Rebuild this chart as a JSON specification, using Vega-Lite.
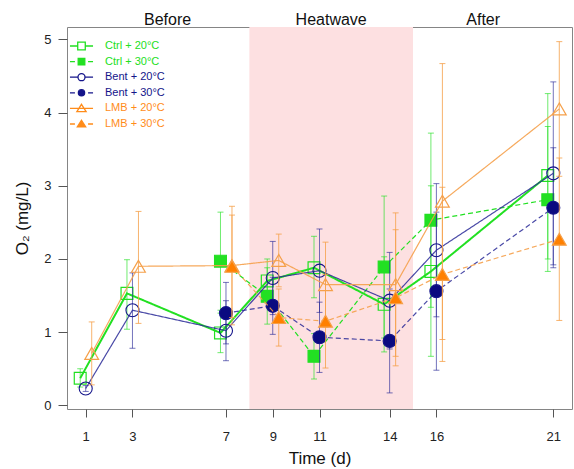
{
  "$schema": "https://vega.github.io/schema/vega-lite/v6.json",
  "width": 505,
  "height": 382,
  "autosize": {"type": "none"},
  "padding": {"left": 67, "top": 27, "right": 2, "bottom": 60},
  "config": {
    "font": "Liberation Sans",
    "view": {"stroke": "#858585", "strokeWidth": 1},
    "axis": {"grid": false, "domain": false, "tickColor": "#555555", "labelColor": "#222222", "titleColor": "#111111", "labelFontSize": 13, "titleFontSize": 17, "titleFontWeight": "normal", "labelFont": "Liberation Sans", "titleFont": "Liberation Sans"}
  },
  "datasets": {
    "obs": [
      {"day": 1, "trt": "Ctrl", "temp": "20°C", "series": "Ctrl + 20°C", "mean": 0.37, "lo": 0.25, "hi": 0.50},
      {"day": 3, "trt": "Ctrl", "temp": "20°C", "series": "Ctrl + 20°C", "mean": 1.53, "lo": 1.04, "hi": 1.99},
      {"day": 7, "trt": "Ctrl", "temp": "20°C", "series": "Ctrl + 20°C", "mean": 0.99, "lo": 0.72, "hi": 1.26},
      {"day": 9, "trt": "Ctrl", "temp": "20°C", "series": "Ctrl + 20°C", "mean": 1.70, "lo": 1.40, "hi": 2.00},
      {"day": 11, "trt": "Ctrl", "temp": "20°C", "series": "Ctrl + 20°C", "mean": 1.88, "lo": 1.47, "hi": 2.31},
      {"day": 14, "trt": "Ctrl", "temp": "20°C", "series": "Ctrl + 20°C", "mean": 1.38, "lo": 0.73, "hi": 2.03},
      {"day": 16, "trt": "Ctrl", "temp": "20°C", "series": "Ctrl + 20°C", "mean": 1.83, "lo": 0.67, "hi": 3.00},
      {"day": 21, "trt": "Ctrl", "temp": "20°C", "series": "Ctrl + 20°C", "mean": 3.14, "lo": 2.00, "hi": 4.26},
      {"day": 7, "trt": "Ctrl", "temp": "30°C", "series": "Ctrl + 30°C", "mean": 1.97, "lo": 1.30, "hi": 2.64},
      {"day": 9, "trt": "Ctrl", "temp": "30°C", "series": "Ctrl + 30°C", "mean": 1.49, "lo": 1.11, "hi": 1.88},
      {"day": 11, "trt": "Ctrl", "temp": "30°C", "series": "Ctrl + 30°C", "mean": 0.67, "lo": 0.36, "hi": 0.98},
      {"day": 14, "trt": "Ctrl", "temp": "30°C", "series": "Ctrl + 30°C", "mean": 1.89, "lo": 0.92, "hi": 2.86},
      {"day": 16, "trt": "Ctrl", "temp": "30°C", "series": "Ctrl + 30°C", "mean": 2.53, "lo": 1.34, "hi": 3.72},
      {"day": 21, "trt": "Ctrl", "temp": "30°C", "series": "Ctrl + 30°C", "mean": 2.81, "lo": 1.83, "hi": 3.81},
      {"day": 1, "trt": "Bent", "temp": "20°C", "series": "Bent + 20°C", "mean": 0.23, "lo": 0.19, "hi": 0.27},
      {"day": 3, "trt": "Bent", "temp": "20°C", "series": "Bent + 20°C", "mean": 1.30, "lo": 0.78, "hi": 1.81},
      {"day": 7, "trt": "Bent", "temp": "20°C", "series": "Bent + 20°C", "mean": 1.02, "lo": 0.61, "hi": 1.43},
      {"day": 9, "trt": "Bent", "temp": "20°C", "series": "Bent + 20°C", "mean": 1.74, "lo": 1.24, "hi": 2.24},
      {"day": 11, "trt": "Bent", "temp": "20°C", "series": "Bent + 20°C", "mean": 1.84, "lo": 1.27, "hi": 2.41},
      {"day": 14, "trt": "Bent", "temp": "20°C", "series": "Bent + 20°C", "mean": 1.43, "lo": 0.77, "hi": 2.09},
      {"day": 16, "trt": "Bent", "temp": "20°C", "series": "Bent + 20°C", "mean": 2.12, "lo": 1.21, "hi": 3.03},
      {"day": 21, "trt": "Bent", "temp": "20°C", "series": "Bent + 20°C", "mean": 3.17, "lo": 1.92, "hi": 4.42},
      {"day": 7, "trt": "Bent", "temp": "30°C", "series": "Bent + 30°C", "mean": 1.26, "lo": 0.84, "hi": 1.68},
      {"day": 9, "trt": "Bent", "temp": "30°C", "series": "Bent + 30°C", "mean": 1.36, "lo": 0.97, "hi": 1.75},
      {"day": 11, "trt": "Bent", "temp": "30°C", "series": "Bent + 30°C", "mean": 0.93, "lo": 0.45, "hi": 1.41},
      {"day": 14, "trt": "Bent", "temp": "30°C", "series": "Bent + 30°C", "mean": 0.88, "lo": 0.17, "hi": 1.59},
      {"day": 16, "trt": "Bent", "temp": "30°C", "series": "Bent + 30°C", "mean": 1.56, "lo": 0.48, "hi": 2.64},
      {"day": 21, "trt": "Bent", "temp": "30°C", "series": "Bent + 30°C", "mean": 2.70, "lo": 1.88, "hi": 3.52},
      {"day": 1, "trt": "LMB", "temp": "20°C", "series": "LMB + 20°C", "mean": 0.71, "lo": 0.28, "hi": 1.14},
      {"day": 3, "trt": "LMB", "temp": "20°C", "series": "LMB + 20°C", "mean": 1.90, "lo": 1.12, "hi": 2.65},
      {"day": 7, "trt": "LMB", "temp": "20°C", "series": "LMB + 20°C", "mean": 1.91, "lo": 1.10, "hi": 2.72},
      {"day": 9, "trt": "LMB", "temp": "20°C", "series": "LMB + 20°C", "mean": 1.98, "lo": 1.62, "hi": 2.34},
      {"day": 11, "trt": "LMB", "temp": "20°C", "series": "LMB + 20°C", "mean": 1.65, "lo": 1.07, "hi": 2.23},
      {"day": 14, "trt": "LMB", "temp": "20°C", "series": "LMB + 20°C", "mean": 1.65, "lo": 0.67, "hi": 2.63},
      {"day": 16, "trt": "LMB", "temp": "20°C", "series": "LMB + 20°C", "mean": 2.79, "lo": 0.90, "hi": 4.67},
      {"day": 21, "trt": "LMB", "temp": "20°C", "series": "LMB + 20°C", "mean": 4.05, "lo": 3.13, "hi": 4.97},
      {"day": 7, "trt": "LMB", "temp": "30°C", "series": "LMB + 30°C", "mean": 1.90, "lo": 1.20, "hi": 2.60},
      {"day": 9, "trt": "LMB", "temp": "30°C", "series": "LMB + 30°C", "mean": 1.20, "lo": 0.81, "hi": 1.59},
      {"day": 11, "trt": "LMB", "temp": "30°C", "series": "LMB + 30°C", "mean": 1.15, "lo": 0.51, "hi": 1.79},
      {"day": 14, "trt": "LMB", "temp": "30°C", "series": "LMB + 30°C", "mean": 1.47, "lo": 0.54, "hi": 2.40},
      {"day": 16, "trt": "LMB", "temp": "30°C", "series": "LMB + 30°C", "mean": 1.79, "lo": 0.60, "hi": 2.98},
      {"day": 21, "trt": "LMB", "temp": "30°C", "series": "LMB + 30°C", "mean": 2.27, "lo": 1.16, "hi": 3.38}
    ],
    "periods": [
      {"period": "Before", "start": 0.2, "end": 8, "mid": 4.5},
      {"period": "Heatwave", "start": 8, "end": 15, "mid": 11.5},
      {"period": "After", "start": 15, "end": 21.8, "mid": 18}
    ]
  },
  "data": {"name": "obs"},
  "encoding": {
    "x": {"field": "day", "type": "quantitative", "title": "Time (d)",
      "scale": {"domain": [0.2, 21.8], "nice": false, "zero": false},
      "axis": {"values": [1, 3, 7, 9, 11, 14, 16, 21], "tickSize": 8, "labelPadding": 13, "titlePadding": 7}}
  },
  "layer": [
    {
      "data": {"name": "periods"},
      "transform": [{"filter": "datum.period == 'Heatwave'"}],
      "mark": {"type": "rect", "color": "#fde0e1"},
      "encoding": {
        "x": {"field": "start", "type": "quantitative", "title": "Time (d)"},
        "x2": {"field": "end"}
      }
    },
    {
      "data": {"name": "periods"},
      "mark": {"type": "text", "fontSize": 16, "color": "#111111", "baseline": "middle", "align": "center"},
      "encoding": {
        "x": {"field": "mid", "type": "quantitative", "title": "Time (d)"},
        "y": {"datum": 5.27, "type": "quantitative"},
        "text": {"field": "period"}
      }
    },
    {
      "transform": [{"filter": "datum.trt == 'Ctrl'"}],
      "layer": [
        {"mark": {"type": "rule", "xOffset": -5.5, "color": "#22e022", "opacity": 0.65, "strokeWidth": 1},
         "encoding": {"y": {"field": "lo", "type": "quantitative", "title": "O₂ (mg/L)"}, "y2": {"field": "hi"}}},
        {"mark": {"type": "tick", "orient": "horizontal", "xOffset": -5.5, "color": "#22e022", "opacity": 0.65, "size": 6, "thickness": 1},
         "encoding": {"y": {"field": "lo", "type": "quantitative", "title": "O₂ (mg/L)"}}},
        {"mark": {"type": "tick", "orient": "horizontal", "xOffset": -5.5, "color": "#22e022", "opacity": 0.65, "size": 6, "thickness": 1},
         "encoding": {"y": {"field": "hi", "type": "quantitative", "title": "O₂ (mg/L)"}}},
        {"mark": {"type": "line", "xOffset": -5.5, "color": "#22e022"},
         "encoding": {
           "y": {"field": "mean", "type": "quantitative", "title": "O₂ (mg/L)"},
           "detail": {"field": "temp"},
           "strokeDash": {"field": "temp", "type": "nominal", "scale": {"domain": ["20°C", "30°C"], "range": [[1, 0], [5, 3]]}, "legend": null},
           "strokeWidth": {"condition": {"test": "datum.temp == '20°C'", "value": 2}, "value": 1.2}
         }},
        {"mark": {"type": "point", "shape": "square", "xOffset": -5.5, "stroke": "#22e022", "strokeWidth": 1.2, "opacity": 1, "size": 140},
         "encoding": {
           "y": {"field": "mean", "type": "quantitative", "title": "O₂ (mg/L)"},
           "fill": {"condition": {"test": "datum.temp == '30°C'", "value": "#22e022"}, "value": "transparent"}
         }}
      ]
    },
    {
      "transform": [{"filter": "datum.trt == 'Bent'"}],
      "layer": [
        {"mark": {"type": "rule", "xOffset": 0, "color": "#2a2a98", "opacity": 0.65, "strokeWidth": 1},
         "encoding": {"y": {"field": "lo", "type": "quantitative", "title": "O₂ (mg/L)"}, "y2": {"field": "hi"}}},
        {"mark": {"type": "tick", "orient": "horizontal", "xOffset": 0, "color": "#2a2a98", "opacity": 0.65, "size": 6, "thickness": 1},
         "encoding": {"y": {"field": "lo", "type": "quantitative", "title": "O₂ (mg/L)"}}},
        {"mark": {"type": "tick", "orient": "horizontal", "xOffset": 0, "color": "#2a2a98", "opacity": 0.65, "size": 6, "thickness": 1},
         "encoding": {"y": {"field": "hi", "type": "quantitative", "title": "O₂ (mg/L)"}}},
        {"mark": {"type": "line", "xOffset": 0, "color": "#2a2a98", "opacity": 0.85, "strokeWidth": 1.2},
         "encoding": {
           "y": {"field": "mean", "type": "quantitative", "title": "O₂ (mg/L)"},
           "detail": {"field": "temp"},
           "strokeDash": {"field": "temp", "type": "nominal", "legend": null}
         }},
        {"mark": {"type": "point", "shape": "circle", "xOffset": 0, "stroke": "#14148a", "strokeWidth": 1.1, "opacity": 1, "size": 170},
         "encoding": {
           "y": {"field": "mean", "type": "quantitative", "title": "O₂ (mg/L)"},
           "fill": {"condition": {"test": "datum.temp == '30°C'", "value": "#0a0a80"}, "value": "transparent"}
         }}
      ]
    },
    {
      "transform": [{"filter": "datum.trt == 'LMB'"}],
      "layer": [
        {"mark": {"type": "rule", "xOffset": 6, "color": "#f5a04a", "opacity": 0.8, "strokeWidth": 1},
         "encoding": {"y": {"field": "lo", "type": "quantitative", "title": "O₂ (mg/L)"}, "y2": {"field": "hi"}}},
        {"mark": {"type": "tick", "orient": "horizontal", "xOffset": 6, "color": "#f5a04a", "opacity": 0.8, "size": 6, "thickness": 1},
         "encoding": {"y": {"field": "lo", "type": "quantitative", "title": "O₂ (mg/L)"}}},
        {"mark": {"type": "tick", "orient": "horizontal", "xOffset": 6, "color": "#f5a04a", "opacity": 0.8, "size": 6, "thickness": 1},
         "encoding": {"y": {"field": "hi", "type": "quantitative", "title": "O₂ (mg/L)"}}},
        {"mark": {"type": "line", "xOffset": 6, "color": "#f5a04a", "opacity": 0.9, "strokeWidth": 1.2},
         "encoding": {
           "y": {"field": "mean", "type": "quantitative", "title": "O₂ (mg/L)",
             "scale": {"domain": [-0.05, 5.17], "nice": false, "zero": false},
             "axis": {"values": [0, 1, 2, 3, 4, 5], "format": "d", "tickSize": 9, "labelPadding": 7, "titlePadding": 12}},
           "detail": {"field": "temp"},
           "strokeDash": {"field": "temp", "type": "nominal", "legend": null}
         }},
        {"mark": {"type": "point", "shape": "triangle-up", "xOffset": 6, "stroke": "#f5a04a", "strokeWidth": 1.2, "opacity": 1, "size": 190},
         "encoding": {
           "y": {"field": "mean", "type": "quantitative", "title": "O₂ (mg/L)"},
           "fill": {"condition": {"test": "datum.temp == '30°C'", "value": "#ff8000"}, "value": "transparent"}
         }}
      ]
    },
    {
      "transform": [{"filter": "false"}],
      "mark": {"type": "point", "size": 110, "strokeWidth": 1.3, "opacity": 1},
      "encoding": {
        "shape": {"field": "series", "type": "nominal",
          "scale": {"domain": ["Ctrl + 20°C", "Ctrl + 30°C", "Bent + 20°C", "Bent + 30°C", "LMB + 20°C", "LMB + 30°C"],
            "range": ["M-2.2,0H-0.72M0.72,0H2.2M-0.72,-0.72H0.72V0.72H-0.72Z", "M-2.2,0H-1.25M1.25,0H2.2M-0.63,-0.63H0.63V0.63H-0.63Z", "M-2.2,0H-0.67M0.67,0H2.2M0.67,0A0.67,0.67 0 1,1 -0.67,0A0.67,0.67 0 1,1 0.67,0Z", "M-2.2,0H-1.25M1.25,0H2.2M0.6,0A0.6,0.6 0 1,1 -0.6,0A0.6,0.6 0 1,1 0.6,0Z", "M-2.2,0H2.2M0,-0.78L0.88,0.6L-0.88,0.6Z", "M-2.2,0H-1.25M1.25,0H2.2M0,-0.72L0.8,0.56L-0.8,0.56Z"]},
          "legend": {
            "orient": "none", "legendX": 8.5, "legendY": 13, "title": null, "padding": 0,
            "symbolSize": 110, "symbolStrokeWidth": 1.3, "symbolOpacity": 1,
            "labelFontSize": 11, "labelOffset": 17.5, "rowPadding": 2.6, "labelFont": "Liberation Sans",
            "labelColor": {"expr": "indexof(datum.value,'Ctrl') >= 0 ? '#22e022' : indexof(datum.value,'Bent') >= 0 ? '#14148a' : '#ff8c1a'"}
          }},
        "stroke": {"field": "series", "type": "nominal",
          "scale": {"domain": ["Ctrl + 20°C", "Ctrl + 30°C", "Bent + 20°C", "Bent + 30°C", "LMB + 20°C", "LMB + 30°C"],
            "range": ["#22e022", "#22e022", "#14148a", "#14148a", "#ff8c1a", "#ff8c1a"]}},
        "fill": {"field": "series", "type": "nominal",
          "scale": {"domain": ["Ctrl + 20°C", "Ctrl + 30°C", "Bent + 20°C", "Bent + 30°C", "LMB + 20°C", "LMB + 30°C"],
            "range": ["transparent", "#22e022", "transparent", "#14148a", "transparent", "#ff8c1a"]}}
      }
    }
  ]
}
